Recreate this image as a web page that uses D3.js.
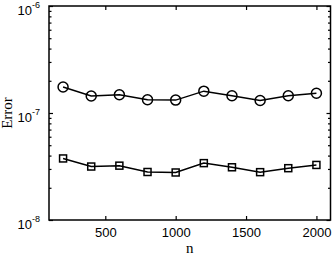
<!DOCTYPE html>
<html>
<head>
<meta charset="utf-8">
<script src="https://cdn.jsdelivr.net/npm/d3@7"></script>
<style>
  body { margin: 0; background: #fff; }
  svg { display: block; }
  .tick text { font-family: "Liberation Sans", Arial, sans-serif; font-size: 13px; fill: #000; }
  .lbl { font-family: "Liberation Serif", "Times New Roman", serif; font-size: 15px; fill: #000; }
</style>
</head>
<body>
<div id="canvas"></div>
<script>
// data
var nVals = [200, 400, 600, 800, 1000, 1200, 1400, 1600, 1800, 2000];
var errCircle = [1.75e-7, 1.44e-7, 1.48e-7, 1.33e-7, 1.32e-7, 1.6e-7, 1.45e-7, 1.31e-7, 1.45e-7, 1.53e-7];
var errSquare = [3.76e-8, 3.16e-8, 3.22e-8, 2.81e-8, 2.78e-8, 3.4e-8, 3.11e-8, 2.8e-8, 3.05e-8, 3.27e-8];
var xTicks = [500, 1000, 1500, 2000];
var yTicks = [1e-8, 1e-7, 1e-6];
var yExps = ['-8', '-7', '-6'];

var W = 332, H = 257;
var m = {left: 49, top: 6, right: 1.5, bottom: 37};
var iw = W - m.left - m.right, ih = H - m.top - m.bottom;

var svg = d3.select('#canvas').append('svg')
  .attr('width', W).attr('height', H);
var g = svg.append('g').attr('transform', 'translate(' + m.left + ',' + m.top + ')');

var x = d3.scaleLinear().domain([100, 2100]).range([0, iw]);
var y = d3.scaleLog().domain([1e-8, 1e-6]).range([ih, 0]);

var minor = [];
[1e-8, 1e-7].forEach(function(d) {
  for (var k = 2; k <= 9; k++) minor.push(d * k);
});

// axes, ticks pointing in
g.append('g').attr('transform', 'translate(0,' + ih + ')')
  .call(d3.axisBottom(x).tickValues(xTicks).tickSize(-4).tickPadding(8).tickFormat(d3.format('d')));
g.append('g')
  .call(d3.axisTop(x).tickValues(xTicks).tickSize(-4).tickFormat(''));

var left = g.append('g')
  .call(d3.axisLeft(y).tickValues(yTicks).tickSize(-4).tickFormat(function() { return '10'; }));
left.selectAll('.tick text')
  .attr('x', -9).attr('dy', '0.66em')
  .each(function(d, i) {
    d3.select(this).append('tspan')
      .attr('dy', '-0.75em').style('font-size', '9px').text(yExps[i]);
  });

g.append('g')
  .call(d3.axisLeft(y).tickValues(minor).tickSize(-2.5).tickFormat(''));
g.append('g').attr('transform', 'translate(' + iw + ',0)')
  .call(d3.axisRight(y).tickValues(yTicks).tickSize(-4).tickFormat(''));
g.append('g').attr('transform', 'translate(' + iw + ',0)')
  .call(d3.axisRight(y).tickValues(minor).tickSize(-2.5).tickFormat(''));

g.selectAll('.domain').remove();
g.selectAll('.tick line').attr('stroke', '#000').attr('stroke-width', 1.2);

// box
g.append('rect').attr('width', iw).attr('height', ih)
  .attr('fill', 'none').attr('stroke', '#000').attr('stroke-width', 1.5);

// series
var line = d3.line()
  .x(function(d, i) { return x(nVals[i]); })
  .y(function(d) { return y(d); });

g.append('path').datum(errCircle).attr('d', line)
  .attr('fill', 'none').attr('stroke', '#000').attr('stroke-width', 1.5);
g.append('path').datum(errSquare).attr('d', line)
  .attr('fill', 'none').attr('stroke', '#000').attr('stroke-width', 1.5);

g.selectAll('.circ').data(errCircle).enter().append('circle')
  .attr('class', 'circ')
  .attr('cx', function(d, i) { return x(nVals[i]); })
  .attr('cy', function(d) { return y(d); })
  .attr('r', 5)
  .attr('fill', 'none').attr('stroke', '#000').attr('stroke-width', 1.5);

g.selectAll('.sq').data(errSquare).enter().append('rect')
  .attr('class', 'sq')
  .attr('x', function(d, i) { return x(nVals[i]) - 3.5; })
  .attr('y', function(d) { return y(d) - 3.5; })
  .attr('width', 7).attr('height', 7)
  .attr('fill', 'none').attr('stroke', '#000').attr('stroke-width', 1.5);

// labels
svg.append('text').attr('class', 'lbl')
  .attr('x', m.left + x(1100)).attr('y', 253)
  .attr('text-anchor', 'middle').text('n');
svg.append('text').attr('class', 'lbl')
  .attr('transform', 'translate(12,' + (m.top + ih / 2) + ') rotate(-90)')
  .attr('text-anchor', 'middle').text('Error');
</script>
</body>
</html>
